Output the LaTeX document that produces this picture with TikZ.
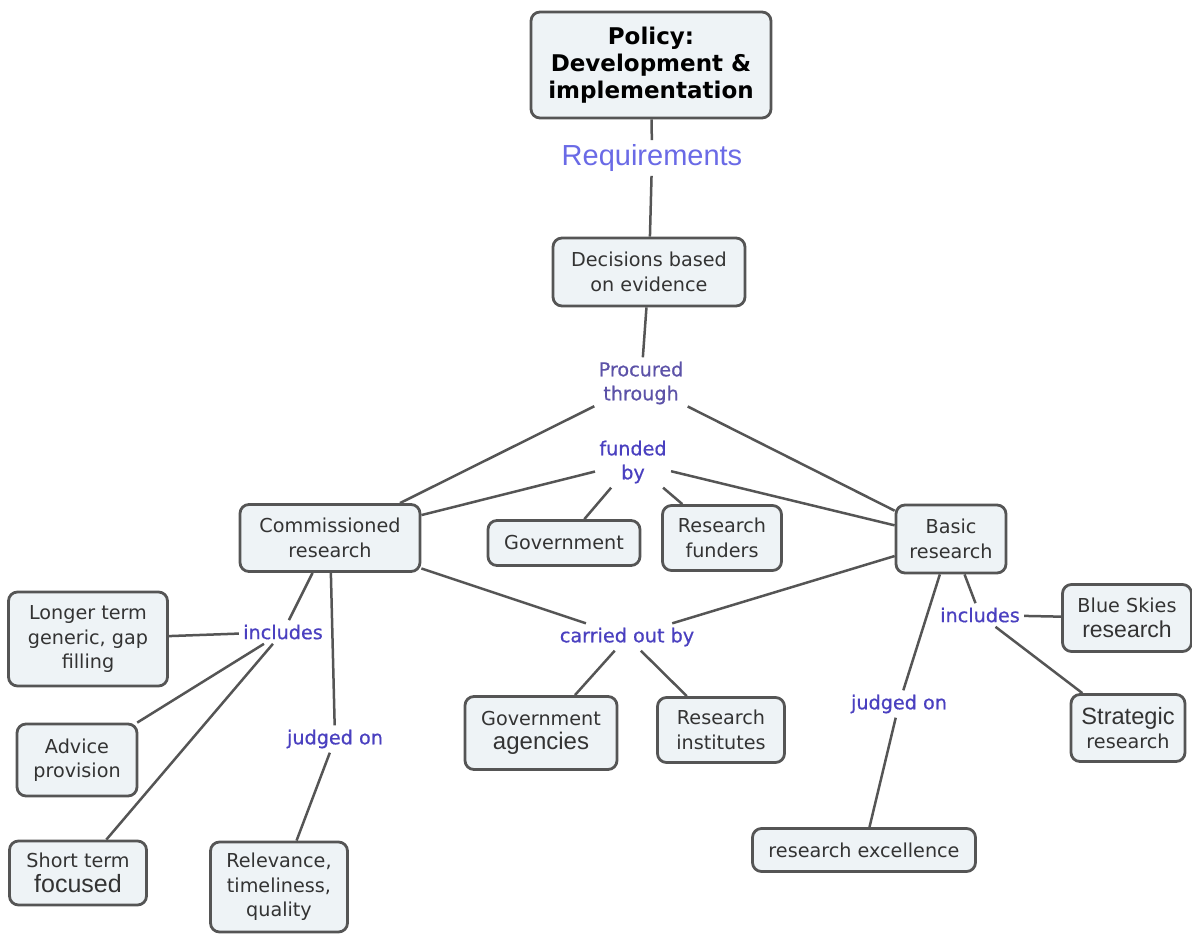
\documentclass[tikz,border=0pt]{standalone}
\usepackage{fontspec}
\setmainfont{DejaVu Sans}
\newfontfamily\arialf{Liberation Sans}
\newfontfamily\labf[FakeBold=0.6]{DejaVu Sans}
\definecolor{boxfill}{HTML}{EEF3F6}
\definecolor{boxline}{HTML}{555555}
\definecolor{linkc}{HTML}{4A40C0}
\definecolor{procc}{HTML}{5C52A8}
\definecolor{reqc}{HTML}{6A6AE6}
\definecolor{boxtext}{HTML}{333333}
\tikzset{
  box/.style={draw=boxline, line width=1.4pt, fill=boxfill, rounded corners=4.5pt,
    align=center, text=boxtext, font=\fontsize{9.6}{12.3}\selectfont, inner sep=1pt},
  lnk/.style={align=center, text=linkc, font=\labf\fontsize{9.6}{12}\selectfont, inner sep=2pt},
  con/.style={draw=boxline, line width=1.25pt},
}
\begin{document}
\begin{tikzpicture}[x=0.5pt,y=-0.5pt]
\useasboundingbox[fill=white] (0,0) rectangle (1192,936);
% concepts
\node[box, minimum width=120pt, minimum height=53pt, text=black,
  font=\bfseries\fontsize{11.5}{13.5}\selectfont] (policy) at (651,65) {Policy:\\Development \&\\implementation};
\node[lnk, text=reqc, font=\arialf\fontsize{14.5}{16}\selectfont] (req) at (652,158) {Requirements};
\node[box, minimum width=96pt, minimum height=34pt] (dec) at (649,272) {Decisions based\\on evidence};
\node[lnk, text=procc] (proc) at (641,383) {Procured\\through};
\node[box, minimum width=90pt, minimum height=33.5pt] (comm) at (330,538) {Commissioned\\research};
\node[lnk] (fund) at (633,462) {funded\\by};
\node[box, minimum width=76pt, minimum height=22.5pt] (gov) at (564,543) {Government};
\node[box, minimum width=59.5pt, minimum height=32.5pt] (fun) at (722,538) {Research\\funders};
\node[box, minimum width=55pt, minimum height=34pt] (basic) at (951,539) {Basic\\research};
\node[lnk] (carr) at (627,637) {carried out by};
\node[box, minimum width=76pt, minimum height=36.5pt] (agen) at (541,733) {Government\\{\arialf\fontsize{12}{13}\selectfont agencies}};
\node[box, minimum width=63.5pt, minimum height=32.5pt] (inst) at (721,730) {Research\\institutes};
\node[box, minimum width=79.5pt, minimum height=47pt] (long) at (88,639) {Longer term\\generic, gap\\filling};
\node[lnk] (incl) at (283,632) {includes};
\node[box, minimum width=60pt, minimum height=36pt] (adv) at (77,760) {Advice\\provision};
\node[lnk] (judl) at (335,739) {judged on};
\node[box, minimum width=68.5pt, minimum height=32pt] (short) at (78,873) {Short term\\{\arialf\fontsize{12.5}{13}\selectfont focused}};
\node[box, minimum width=68.5pt, minimum height=45pt] (rel) at (279,887) {Relevance,\\timeliness,\\quality};
\node[lnk] (incr) at (980,615) {includes};
\node[box, minimum width=64.5pt, minimum height=33.5pt] (blue) at (1127,618) {Blue Skies\\{\arialf\fontsize{11.5}{12}\selectfont research}};
\node[box, minimum width=57pt, minimum height=33.5pt] (strat) at (1128,728) {{\arialf\fontsize{11.8}{12}\selectfont Strategic}\\research};
\node[lnk] (judr) at (899,704) {judged on};
\node[box, minimum width=111.5pt, minimum height=21.5pt] (exc) at (864,850) {research excellence};
% connectors
\draw[con] (policy) -- (req);
\draw[con] (req) -- (dec);
\draw[con] (dec) -- (proc);
\draw[con] (proc) -- (comm);
\draw[con] (proc) -- (basic);
\draw[con] (comm) -- (fund);
\draw[con] (fund) -- (basic);
\draw[con] (fund) -- (gov);
\draw[con] (fund) -- (fun);
\draw[con] (comm) -- (carr);
\draw[con] (carr) -- (basic);
\draw[con] (carr) -- (agen);
\draw[con] (carr) -- (inst);
\draw[con] (comm) -- (incl);
\draw[con] (incl) -- (long);
\draw[con] (incl) -- (adv);
\draw[con] (incl) -- (short);
\draw[con] (comm) -- (judl);
\draw[con] (judl) -- (rel);
\draw[con] (basic) -- (incr);
\draw[con] (incr) -- (blue);
\draw[con] (incr) -- (strat);
\draw[con] (basic) -- (judr);
\draw[con] (judr) -- (exc);
\end{tikzpicture}
\end{document}
